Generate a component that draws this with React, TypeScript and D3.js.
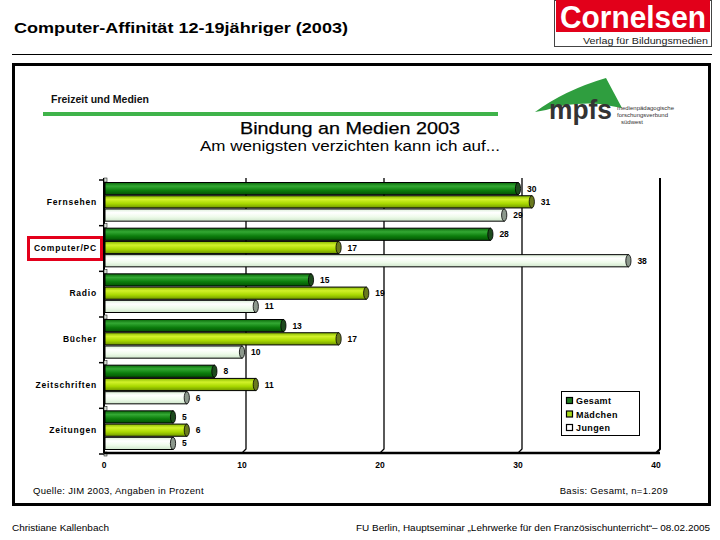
import React from "react";
import * as d3 from "d3";

const categories = ["Fernsehen", "Computer/PC", "Radio", "Bücher", "Zeitschriften", "Zeitungen"];
const series = ["Gesamt", "Mädchen", "Jungen"];
const gesamt = [30, 28, 15, 13, 8, 5];
const maedchen = [31, 17, 19, 17, 11, 6];
const jungen = [29, 38, 11, 10, 6, 5];
const xTicks = [0, 10, 20, 30, 40];

const seriesValues = [gesamt, maedchen, jungen];
const seriesStyle = [
  { id: "gGes", stops: ["#0a6a0a", "#33a833", "#0c7d0c", "#035203"], cap: "#1d4a1d", leg: "#1e7a1e" },
  { id: "gMad", stops: ["#86b800", "#d2f22a", "#a8d800", "#6f9600"], cap: "#6a7a1e", leg: "#a6d81a" },
  { id: "gJun", stops: ["#dcefd8", "#ffffff", "#eefbea", "#cfe6cb"], cap: "#8c988c", leg: "#ffffff" },
];

export default function App() {
  const x = d3.scaleLinear().domain([0, 40]).range([104, 656]);
  const y = d3.scaleBand<string>().domain(categories).range([179, 453]);
  const bw = y.bandwidth();
  const inner = d3.scaleBand<string>().domain(series).range([3.5, bw - 3.5]).paddingInner(0.08);
  const bh = inner.bandwidth();
  const plotTop = 178;
  const base = 453;
  const font = "'Liberation Sans', Arial, sans-serif";

  return (
    <svg width={720} height={540} style={{ position: "absolute", left: 0, top: 0, background: "#fff" }}>
      <defs>
        {seriesStyle.map((s) => (
          <linearGradient key={s.id} id={s.id} x1="0" y1="0" x2="0" y2="1">
            <stop offset="0" stopColor={s.stops[0]} />
            <stop offset="0.3" stopColor={s.stops[1]} />
            <stop offset="0.65" stopColor={s.stops[2]} />
            <stop offset="1" stopColor={s.stops[3]} />
          </linearGradient>
        ))}
      </defs>

      {/* Header */}
      <text x={14} y={33} fontFamily={font} fontWeight="bold" fontSize={15.5} textLength={334} lengthAdjust="spacingAndGlyphs">
        Computer-Affinität 12-19jähriger (2003)
      </text>
      <line x1={12} x2={712} y1={54.5} y2={54.5} stroke="#000" strokeWidth={1} />

      {/* Cornelsen logo */}
      <rect x={554.5} y={0.5} width={157} height={46} fill="#fff" stroke="#444" strokeWidth={1} />
      <rect x={556} y={0} width={154} height={32} fill="#e2001a" />
      <text x={560} y={28} fontFamily={font} fontWeight="bold" fontSize={31} fill="#fff" textLength={146} lengthAdjust="spacingAndGlyphs">
        Cornelsen
      </text>
      <text x={583} y={44} fontFamily={font} fontSize={9} fill="#222" textLength={125} lengthAdjust="spacingAndGlyphs">
        Verlag für Bildungsmedien
      </text>

      {/* Frame */}
      <rect x={13.5} y={64.5} width={696} height={440} fill="none" stroke="#000" strokeWidth={3} />

      {/* Subheader */}
      <text x={51} y={103} fontFamily={font} fontWeight="bold" fontSize={10.5} fill="#111">
        Freizeit und Medien
      </text>
      <line x1={43} x2={498} y1={114} y2={114} stroke="#3fb34a" strokeWidth={4} />
      <text x={240} y={134} fontFamily={font} fontSize={17} fill="#000" stroke="#000" strokeWidth={0.25} textLength={220} lengthAdjust="spacingAndGlyphs">
        Bindung an Medien 2003
      </text>
      <text x={200} y={151} fontFamily={font} fontSize={14} fill="#000" textLength={300} lengthAdjust="spacingAndGlyphs">
        Am wenigsten verzichten kann ich auf...
      </text>

      {/* mpfs logo */}
      <path d="M535,112 Q565,90 606,78 L622,108 L600,104 Q570,102 546,110 Z" fill="#2f9e3f" />
      <text x={549} y={119} fontFamily={font} fontWeight="bold" fontSize={27} fill="#333" textLength={63} lengthAdjust="spacingAndGlyphs">
        mpfs
      </text>
      <text fontFamily={font} fontSize={6} fill="#333">
        <tspan x={617} y={110}>medienpädagogische</tspan>
        <tspan x={617} y={117}>forschungsverbund</tspan>
        <tspan x={621} y={124}>südwest</tspan>
      </text>

      {/* Gridlines */}
      {xTicks.slice(1).map((t) => (
        <path
          key={"g" + t}
          d={`M${x(t) + 4},${plotTop} L${x(t) + 4},${base - 4} L${x(t)},${base}`}
          fill="none"
          stroke="#000"
          strokeWidth={t === 40 ? 2 : 1.3}
        />
      ))}

      {/* Left axis */}
      <line x1={104} x2={104} y1={plotTop} y2={base} stroke="#000" strokeWidth={2} />
      {[...categories.map((c) => y(c)!), base].map((yy, i) => (
        <g key={"t" + i}>
          <line x1={99} x2={104} y1={yy + 1} y2={yy + 1} stroke="#000" strokeWidth={1.5} />
          <rect x={104} y={yy - 1} width={3} height={4} fill="#d6ddd6" stroke="#000" strokeWidth={0.5} />
        </g>
      ))}
      <line x1={104} x2={660} y1={base} y2={base} stroke="#000" strokeWidth={2.5} />

      {/* X ticks */}
      {xTicks.map((t) => (
        <text key={"xl" + t} x={x(t)} y={468} textAnchor="middle" fontFamily={font} fontWeight="bold" fontSize={8.5} fill="#000">
          {t}
        </text>
      ))}

      {/* Bars */}
      {categories.map((c, ci) => (
        <g key={c}>
          {series.map((s, si) => {
            const v = seriesValues[si][ci];
            const y0 = y(c)! + inner(s)!;
            const x1 = x(v);
            const st = seriesStyle[si];
            return (
              <g key={s}>
                <rect x={x(0) + 1} y={y0} width={x1 - x(0) - 1} height={bh} fill={`url(#${st.id})`} stroke="#000" strokeWidth={1} />
                <ellipse cx={x1} cy={y0 + bh / 2} rx={2.6} ry={bh / 2} fill={st.cap} stroke="#000" strokeWidth={0.8} />
                <text x={x1 + 9} y={y0 + bh / 2 + 3} fontFamily={font} fontWeight="bold" fontSize={8.5} fill="#000">
                  {v}
                </text>
              </g>
            );
          })}
          <text x={97} y={y(c)! + bw / 2 + 3} textAnchor="end" fontFamily={font} fontWeight="bold" fontSize={8.5} fill="#000" letterSpacing={0.8}>
            {c}
          </text>
        </g>
      ))}

      {/* Highlight box */}
      <rect x={28.5} y={237.5} width={73} height={22} fill="none" stroke="#e3001b" strokeWidth={3} />

      {/* Legend */}
      <rect x={561.5} y={391.5} width={78} height={44} fill="#fff" stroke="#000" strokeWidth={1} />
      {series.map((s, i) => (
        <g key={"lg" + s}>
          <rect x={566.5} y={397.5 + i * 13.5} width={6} height={6} fill={seriesStyle[i].leg} stroke="#000" strokeWidth={1.2} />
          <text x={576} y={404 + i * 13.5} fontFamily={font} fontWeight="bold" fontSize={9} fill="#000" letterSpacing={0.4}>
            {s}
          </text>
        </g>
      ))}

      {/* Source notes */}
      <text x={33} y={494} fontFamily={font} fontSize={9.5} fill="#000" letterSpacing={0.3}>
        Quelle: JIM 2003, Angaben in Prozent
      </text>
      <text x={668} y={494} textAnchor="end" fontFamily={font} fontSize={9.5} fill="#000" letterSpacing={0.3}>
        Basis: Gesamt, n=1.209
      </text>

      {/* Footer */}
      <text x={12} y={531} fontFamily={font} fontSize={9.5} fill="#000" textLength={97} lengthAdjust="spacingAndGlyphs">
        Christiane Kallenbach
      </text>
      <text x={710} y={531} textAnchor="end" fontFamily={font} fontSize={9.5} fill="#000" textLength={354} lengthAdjust="spacingAndGlyphs">
        FU Berlin, Hauptseminar „Lehrwerke für den Französischunterricht“– 08.02.2005
      </text>
    </svg>
  );
}
